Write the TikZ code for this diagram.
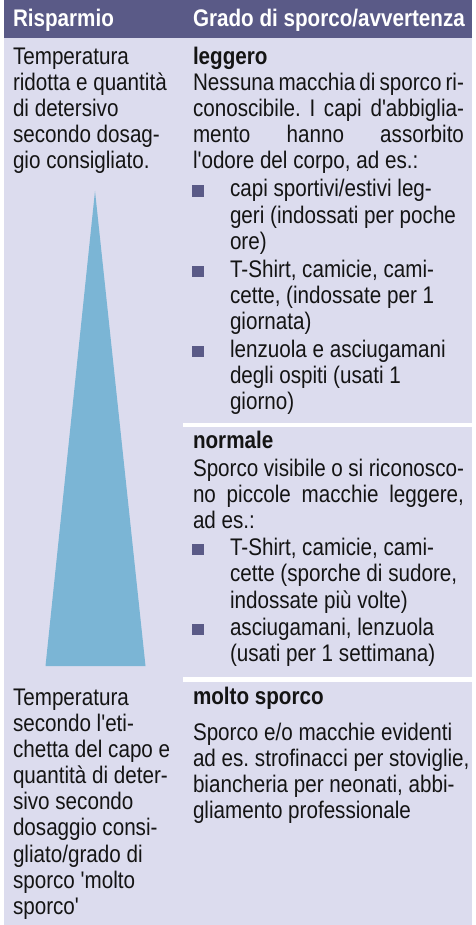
\documentclass[tikz,border=0pt]{standalone}
\usepackage{fontspec}
\newfontfamily\bodyfont{Liberation Sans}[FakeStretch=0.86]
\frenchspacing
\definecolor{headcol}{RGB}{90,90,135}
\definecolor{bodycol}{RGB}{220,220,238}
\definecolor{tricol}{RGB}{123,181,213}
\definecolor{txtcol}{RGB}{20,20,20}
\tikzset{
  txt/.style={anchor=base west, inner sep=0pt, outer sep=0pt, text=txtcol,
    font=\bodyfont\frenchspacing\fontsize{24}{26}\selectfont},
  headtxt/.style={txt, text=white, font=\bodyfont\bfseries\fontsize{24}{26}\selectfont},
  bold/.style={txt, font=\bodyfont\bfseries\fontsize{24}{26}\selectfont},
  bulletbox/.style={fill=headcol, draw=none, inner sep=0pt, minimum size=11.5pt,
    anchor=south west, outer sep=0pt},
}
\newcommand{\jline}[1]{\makebox[271pt][s]{#1}}
\begin{document}
\begin{tikzpicture}[x=1pt,y=-1pt]
\useasboundingbox (0,0) rectangle (475,925);
\fill[white] (0,0) rectangle (475,925);
\fill[bodycol] (4,0) rectangle (472,925);
\fill[headcol] (4,0) rectangle (472,38);
\fill[white] (183,423) rectangle (472,427);
\fill[white] (183,677) rectangle (472,682);
\fill[tricol] (45.5,666) -- (95,191) -- (145.5,666) -- cycle;
% header
\node[headtxt] (h1) at (13,27) {Risparmio};
\node[headtxt] (h2) at (193,27) {Grado di sporco/avvertenza};
% left top
\node[txt] (l1) at (13,65) {Temperatura};
\node[txt] (l2) at (13,91) {ridotta e quantità};
\node[txt] (l3) at (13,117) {di detersivo};
\node[txt] (l4) at (13,143) {secondo dosag-};
\node[txt] (l5) at (13,169) {gio consigliato.};
% left bottom
\node[txt] (m1) at (13,705) {Temperatura};
\node[txt] (m2) at (13,731) {secondo l'eti-};
\node[txt] (m3) at (13,757) {chetta del capo e};
\node[txt] (m4) at (13,783) {quantità di deter-};
\node[txt] (m5) at (13,809) {sivo secondo};
\node[txt] (m6) at (13,835) {dosaggio consi-};
\node[txt] (m7) at (13,862) {gliato/grado di};
\node[txt] (m8) at (13,888) {sporco 'molto};
\node[txt] (m9) at (13,914) {sporco'};
% leggero
\node[bold] (a0) at (193,65) {leggero};
\node[txt] (a1) at (193,91) {\jline{Nessuna macchia di sporco ri-}};
\node[txt] (a2) at (193,117) {\jline{conoscibile. I capi d'abbiglia-}};
\node[txt] (a3) at (193,143) {\jline{mento hanno assorbito}};
\node[txt] (a4) at (193,169) {l'odore del corpo, ad es.:};
\node[bulletbox] (ab1) at (192,197) {};
\node[txt] (a5) at (230,197) {capi sportivi/estivi leg-};
\node[txt] (a6) at (230,223) {geri (indossati per poche};
\node[txt] (a7) at (230,249) {ore)};
\node[bulletbox] (ab2) at (192,277) {};
\node[txt] (a8) at (230,277) {T-Shirt, camicie, cami-};
\node[txt] (a9) at (230,303) {cette, (indossate per 1};
\node[txt] (a10) at (230,329) {giornata)};
\node[bulletbox] (ab3) at (192,357) {};
\node[txt] (a11) at (230,357) {lenzuola e asciugamani};
\node[txt] (a12) at (230,383) {degli ospiti (usati 1};
\node[txt] (a13) at (230,409) {giorno)};
% normale
\node[bold] (b0) at (193,448) {normale};
\node[txt] (b1) at (193,476) {\jline{Sporco visibile o si riconosco-}};
\node[txt] (b2) at (193,502) {\jline{no piccole macchie leggere,}};
\node[txt] (b3) at (193,528) {ad es.:};
\node[bulletbox] (bb1) at (192,555) {};
\node[txt] (b4) at (230,555) {T-Shirt, camicie, cami-};
\node[txt] (b5) at (230,581) {cette (sporche di sudore,};
\node[txt] (b6) at (230,608) {indossate più volte)};
\node[bulletbox] (bb2) at (192,635) {};
\node[txt] (b7) at (230,635) {asciugamani, lenzuola};
\node[txt] (b8) at (230,661) {(usati per 1 settimana)};
% molto sporco
\node[bold] (c0) at (193,704) {molto sporco};
\node[txt] (c1) at (193,740) {Sporco e/o macchie evidenti};
\node[txt] (c2) at (193,766) {ad es. strofinacci per stoviglie,};
\node[txt] (c3) at (193,792) {biancheria per neonati, abbi-};
\node[txt] (c4) at (193,818) {gliamento professionale};
\end{tikzpicture}
\end{document}
